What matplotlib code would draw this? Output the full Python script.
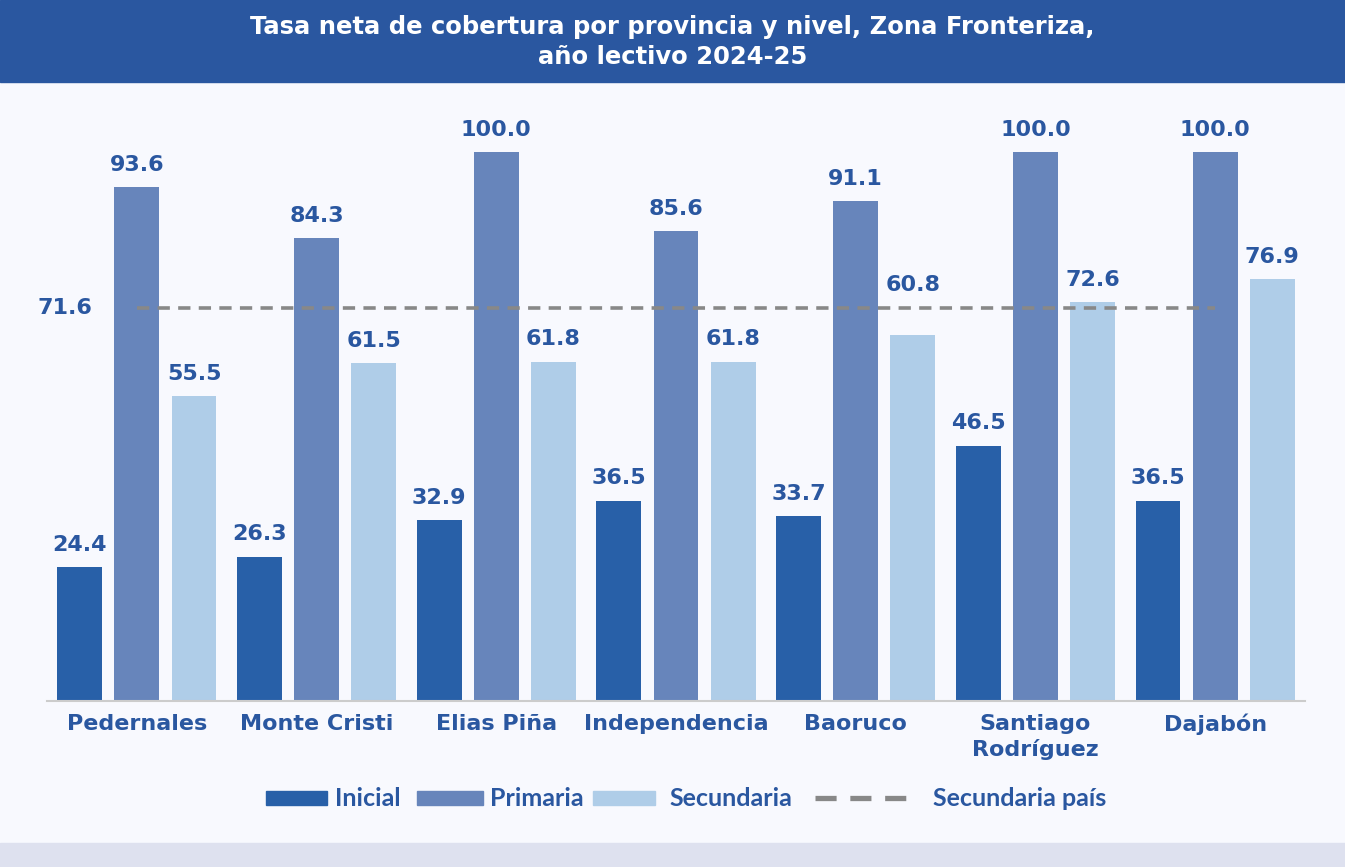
import matplotlib.pyplot as plt
import numpy as np
from matplotlib.patches import Rectangle
from matplotlib.lines import Line2D

# datos
provincias = ['Pedernales', 'Monte Cristi', 'Elias Piña', 'Independencia',
              'Baoruco', 'Santiago\nRodríguez', 'Dajabón']
inicial = [24.4, 26.3, 32.9, 36.5, 33.7, 46.5, 36.5]
primaria = [93.6, 84.3, 100.0, 85.6, 91.1, 100.0, 100.0]
# altura de barras tal como aparece en la imagen (Baoruco dibujada ~66.6)
secundaria = [55.5, 61.5, 61.8, 61.8, 66.6, 72.6, 76.9]
secundaria_etiq = [55.5, 61.5, 61.8, 61.8, 60.8, 72.6, 76.9]
secundaria_pais = 71.6

AZUL_TXT = '#2A57A0'
C_INI = '#2860A8'
C_PRI = '#6785BB'
C_SEC = '#AFCDE8'
C_DASH = '#888888'
FONDO = '#F8F9FE'

plt.rcParams['font.family'] = ['DejaVu Sans']
plt.rcParams['font.weight'] = 'bold'

W, H = 1345, 867
fig = plt.figure(figsize=(W / 100, H / 100), dpi=100, facecolor=FONDO)

# barra de titulo y franja inferior
fig.patches.append(Rectangle((0, 1 - 82 / H), 1, 82 / H, transform=fig.transFigure,
                             color='#2A57A0', zorder=0))
fig.patches.append(Rectangle((0, 0), 1, 24 / H, transform=fig.transFigure,
                             color='#DEE1EF', zorder=0))
fig.text(0.5, 1 - 42 / H,
         'Tasa neta de cobertura por provincia y nivel, Zona Fronteriza,\naño lectivo 2024-25',
         ha='center', va='center', color='white', fontsize=17.5, fontweight='bold',
         linespacing=1.3)

ax = fig.add_axes([47 / W, (H - 701) / H, (1305 - 47) / W, (701 - 152) / H])
ax.set_facecolor(FONDO)
ax.set_xlim(-0.5, 6.5)
ax.set_ylim(0, 100)

x = np.arange(len(provincias))
ancho = 0.25
paso = 0.318
series = [(inicial, inicial, C_INI, -paso), (primaria, primaria, C_PRI, 0),
          (secundaria, secundaria_etiq, C_SEC, paso)]
for vals, etiq, color, off in series:
    ax.bar(x + off, vals, width=ancho, color=color, zorder=2)
    for xi, v, t in zip(x + off, vals, etiq):
        dy = 16
        if t != v:
            dy = 36  # etiqueta desplazada sobre la linea
        ax.annotate(f'{t:.1f}', (xi, v), xytext=(0, dy), textcoords='offset points',
                    ha='center', va='center', fontsize=16, fontweight='bold',
                    color=AZUL_TXT, annotation_clip=False)

ax.plot([x[0], x[-1]], [secundaria_pais, secundaria_pais], color=C_DASH, lw=2.6,
        dashes=(3.4, 2.3), zorder=3)
ax.text(-0.40, secundaria_pais, f'{secundaria_pais:.1f}', ha='center', va='center',
        fontsize=16, fontweight='bold', color=AZUL_TXT)

for s in ['top', 'right', 'left']:
    ax.spines[s].set_visible(False)
ax.spines['bottom'].set_color('#CCCCCC')
ax.spines['bottom'].set_linewidth(1.5)
ax.set_yticks([])
ax.set_xticks(x)
ax.set_xticklabels(provincias, fontsize=16, fontweight='bold', color=AZUL_TXT,
                   linespacing=1.3)
ax.tick_params(axis='x', length=0, pad=9)

# leyenda
ley_font = ['Liberation Sans Narrow', 'Lato', 'DejaVu Sans']
y_ley = 1 - 798 / H
items = [('Inicial', C_INI, 266, 327, 335), ('Primaria', C_PRI, 417, 483, 490),
         ('Secundaria', C_SEC, 593, 655, 669)]
for nombre, color, x0, x1, xt in items:
    fig.patches.append(Rectangle((x0 / W, y_ley - 7 / H), (x1 - x0) / W, 14 / H,
                                 transform=fig.transFigure, color=color))
    fig.text(xt / W, y_ley, nombre, ha='left', va='center', fontsize=18,
             fontweight='bold', color=AZUL_TXT, family=ley_font)
fig.add_artist(Line2D([815 / W, 916 / W], [y_ley, y_ley], transform=fig.transFigure,
                      color=C_DASH, lw=3.8, dashes=(4, 2.6)))
fig.text(933 / W, y_ley, 'Secundaria país', ha='left', va='center', fontsize=18,
         fontweight='bold', color=AZUL_TXT, family=ley_font)

fig.savefig('out.png', dpi=100, facecolor=FONDO)
